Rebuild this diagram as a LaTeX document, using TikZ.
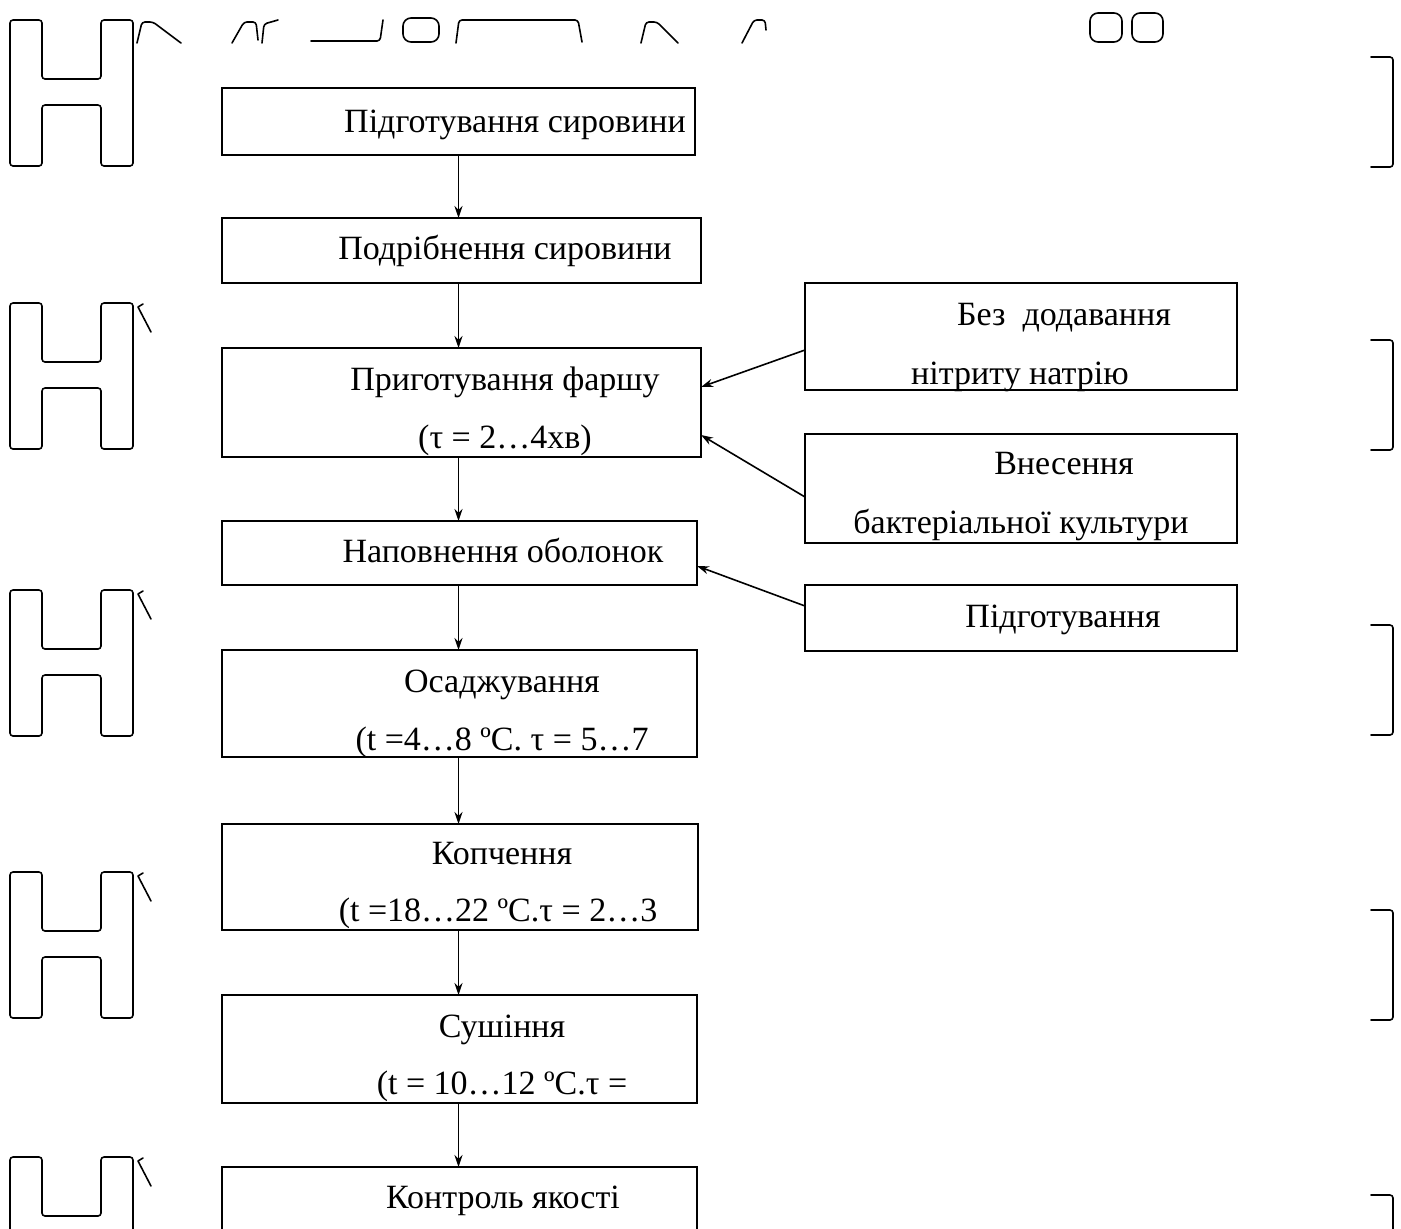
\documentclass[tikz,border=0pt]{standalone}
\usepackage{fontspec}
\setmainfont{Liberation Serif}
\usetikzlibrary{positioning,arrows.meta}

\tikzset{
  stepbox/.style={draw, line width=1.5pt, minimum height=65pt, inner sep=0pt, outer sep=0pt},
  lbl/.style={font=\fontsize{34}{40}\selectfont, anchor=base, inner sep=0pt},
  flow/.style={line width=1.6pt, -{Stealth[length=12pt,width=8pt]}},
  glyph/.style={line width=1.6pt, line cap=round, line join=round, rounded corners=3pt},
}

\begin{document}
\begin{tikzpicture}[x=1pt,y=-1pt]
      \useasboundingbox (0,0) rectangle (1401,1229);
      \clip (0,0) rectangle (1401,1229);
      % Define nodes
      \node[stepbox, minimum width=473pt, minimum height=67pt, anchor=north west] (b1) at (222,88) {};
      \node[stepbox, minimum width=479pt, below=63pt of b1.south west, anchor=north west] (b2) {};
      \node[stepbox, minimum width=479pt, minimum height=109pt, below=65pt of b2.south west, anchor=north west] (b3) {};
      \node[stepbox, minimum width=475pt, minimum height=64pt, below=64pt of b3.south west, anchor=north west] (b4) {};
      \node[stepbox, minimum width=475pt, minimum height=107pt, below=65pt of b4.south west, anchor=north west] (b5) {};
      \node[stepbox, minimum width=476pt, minimum height=106pt, below=67pt of b5.south west, anchor=north west] (b6) {};
      \node[stepbox, minimum width=475pt, minimum height=108pt, below=65pt of b6.south west, anchor=north west] (b7) {};
      \node[stepbox, minimum width=475pt, minimum height=108pt, below=64pt of b7.south west, anchor=north west] (b8) {};
      \node[stepbox, minimum width=432pt, minimum height=107pt, anchor=north west] (r1) at (805,283) {};
      \node[stepbox, minimum width=432pt, minimum height=109pt, below=44pt of r1.south west, anchor=north west] (r2) {};
      \node[stepbox, minimum width=432pt, minimum height=66pt, below=42pt of r2.south west, anchor=north west] (r3) {};
      % Labels
      \node[lbl] (t1) at (515,132) {Підготування сировини};
      \node[lbl] (t2) at (505,259) {Подрібнення сировини};
      \node[lbl] (t3a) at (505,390) {Приготування фаршу};
      \node[lbl] (t3b) at (505,448) {(τ = 2…4хв)};
      \node[lbl] (t4) at (503,562) {Наповнення оболонок};
      \node[lbl] (t5a) at (502,692) {Осаджування};
      \node[lbl] (t5b) at (502,750) {(t =4…8 ºC. τ = 5…7};
      \node[lbl] (t6a) at (502,864) {Копчення};
      \node[lbl] (t6b) at (498,921) {(t =18…22 ºC.τ = 2…3};
      \node[lbl] (t7a) at (502,1037) {Сушіння};
      \node[lbl] (t7b) at (502,1094) {(t = 10…12 ºC.τ =};
      \node[lbl] (t8) at (503,1208) {Контроль якості};
      \node[lbl] (s1a) at (1064,325) {Без\ \ додавання};
      \node[lbl] (s1b) at (1020,384) {нітриту натрію};
      \node[lbl] (s2a) at (1064,474) {Внесення};
      \node[lbl] (s2b) at (1021,533) {бактеріальної культури};
      \node[lbl] (s3) at (1063,627) {Підготування};
      % Connect nodes
      \draw[flow] (b1.south) -- (b1.south |- b2.north);
      \draw[flow] (b1.south |- b2.south) -- (b1.south |- b3.north);
      \draw[flow] (b1.south |- b3.south) -- (b1.south |- b4.north);
      \draw[flow] (b1.south |- b4.south) -- (b1.south |- b5.north);
      \draw[flow] (b1.south |- b5.south) -- (b1.south |- b6.north);
      \draw[flow] (b1.south |- b6.south) -- (b1.south |- b7.north);
      \draw[flow] (b1.south |- b7.south) -- (b1.south |- b8.north);
      \draw[flow] ([yshift=-13.5pt]r1.west) -- ([yshift=15.5pt]b3.east);
      \draw[flow] ([yshift=-8.5pt]r2.west) -- ([yshift=-32.5pt]b3.east);
      \draw[flow] ([yshift=12pt]r3.west) -- ([yshift=-13pt]b4.east);
      % Stray glyph outlines
      \foreach \t in {20,303,590,872,1157}
        \draw[glyph] (10,\t) -- (42,\t) -- (42,\t+59) -- (101,\t+59) -- (101,\t) -- (133,\t)
          -- (133,\t+146) -- (101,\t+146) -- (101,\t+85) -- (42,\t+85) -- (42,\t+146) -- (10,\t+146) -- cycle;
      \foreach \t in {303,590,872,1157}
        \draw[glyph, rounded corners=0pt] (143,\t+1) -- (138,\t+4) -- (151,\t+29);
      \foreach \t in {57,340,625,910,1195}
        \draw[glyph] (1371,\t) -- (1393,\t) -- (1393,\t+110) -- (1371,\t+110);
      \draw[glyph] (137,43) -- (142,22) -- (153,22) -- (181,43);
      \draw[glyph] (232,43) -- (244,22) -- (256,22) -- (258,40);
      \draw[glyph] (262,43) -- (264,24) -- (278,20);
      \draw[glyph] (311,41) -- (380,41) -- (383,20);
      \draw[glyph, rounded corners=8pt] (403,18) rectangle (439,42);
      \draw[glyph] (456,43) -- (459,20) -- (578,20) -- (582,42);
      \draw[glyph] (641,43) -- (646,22) -- (657,22) -- (678,43);
      \draw[glyph] (742,43) -- (754,20) -- (765,20) -- (766,30);
      \draw[glyph, rounded corners=8pt] (1090,13) rectangle (1122,42);
      \draw[glyph, rounded corners=8pt] (1132,13) rectangle (1163,42);
\end{tikzpicture}
\end{document}
